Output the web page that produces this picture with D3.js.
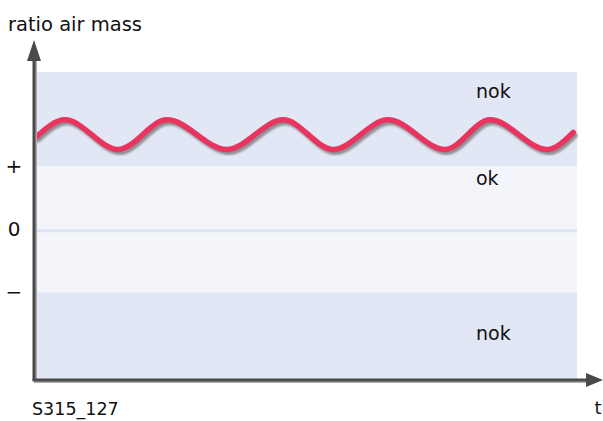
<!DOCTYPE html>
<html>
<head>
<meta charset="utf-8">
<script src="https://cdn.jsdelivr.net/npm/d3@7"></script>
<style>
  body { margin: 0; background: #fff; }
  text { font-family: "DejaVu Sans", sans-serif; fill: #111; }
</style>
</head>
<body>
<div id="chart"></div>
<script>
// dimensions
const w = 603;
const h = 421;

// bandes (valeurs de ratio) : + = 1, 0 = 0, − = -1
const bandNames = ["nok", "ok", "nok"];
const bandLow = [1.02, -0.98, -2.37];
const bandHigh = [2.52, 1.02, -0.98];
const bandColors = ["#e1e7f4", "#f3f5fb", "#e1e7f4"];
const bandLabelY = [2.19, 0.81, -1.65];

// graduations
const tickValues = [1, 0, -1];
const tickLabels = ["+", "0", "\u2212"];

// courbe mesurée (t, ratio)
const waveT = [0.04, 0.57, 1.55, 2.45, 3.55, 4.59, 5.51, 6.52, 7.57, 8.40, 9.45, 9.93];
const waveV = [1.49, 1.76, 1.29, 1.76, 1.29, 1.76, 1.29, 1.76, 1.29, 1.76, 1.29, 1.56];

const svg = d3.select("#chart")
    .append("svg")
    .attr("width", w)
    .attr("height", h);

// scales
const xScale = d3.scaleLinear().domain([0, 10]).range([34, 577]);
const yScale = d3.scaleLinear().domain([-2.37, 2.52]).range([380, 72]);

const defs = svg.append("defs");
defs.append("filter").attr("id", "blur")
    .append("feGaussianBlur").attr("stdDeviation", 1.2);

// bandes
svg.selectAll("rect.band")
    .data(bandNames)
    .enter()
    .append("rect")
    .attr("class", "band")
    .attr("x", xScale(0))
    .attr("width", xScale(10) - xScale(0))
    .attr("y", (d, i) => yScale(bandHigh[i]))
    .attr("height", (d, i) => yScale(bandLow[i]) - yScale(bandHigh[i]))
    .attr("fill", (d, i) => bandColors[i]);

// ligne du zéro
svg.append("line")
    .attr("x1", xScale(0)).attr("x2", xScale(10))
    .attr("y1", yScale(0)).attr("y2", yScale(0))
    .attr("stroke", "#dde4f3")
    .attr("stroke-width", 3);

// étiquettes des bandes
svg.selectAll("text.band")
    .data(bandNames)
    .enter()
    .append("text")
    .attr("class", "band")
    .attr("x", 476)
    .attr("y", (d, i) => yScale(bandLabelY[i]))
    .attr("dominant-baseline", "middle")
    .attr("font-size", "19px")
    .text(d => d);

// courbe
const line = d3.line()
    .x((d, i) => xScale(waveT[i]))
    .y(d => yScale(d))
    .curve(d3.curveMonotoneX);

svg.append("path")
    .attr("d", line(waveV))
    .attr("fill", "none")
    .attr("stroke", "#777")
    .attr("stroke-width", 5)
    .attr("stroke-linecap", "round")
    .attr("transform", "translate(2,3)")
    .attr("filter", "url(#blur)")
    .attr("opacity", 0.8);

svg.append("path")
    .attr("d", line(waveV))
    .attr("fill", "none")
    .attr("stroke", "#e8345f")
    .attr("stroke-width", 5.5)
    .attr("stroke-linecap", "round");

// axes avec ombre
const axisColor = "#4a4a4a";
const x0 = xScale(0), y0 = yScale(-2.37);

svg.append("line")
    .attr("x1", x0 + 2).attr("x2", x0 + 2)
    .attr("y1", 56).attr("y2", y0 + 2)
    .attr("stroke", "#aaa").attr("stroke-width", 2);
svg.append("line")
    .attr("x1", x0).attr("x2", 592)
    .attr("y1", y0 + 2).attr("y2", y0 + 2)
    .attr("stroke", "#aaa").attr("stroke-width", 2);

svg.append("line")
    .attr("x1", x0).attr("x2", x0)
    .attr("y1", 56).attr("y2", y0)
    .attr("stroke", axisColor).attr("stroke-width", 3);
svg.append("line")
    .attr("x1", x0 - 1.5).attr("x2", 592)
    .attr("y1", y0).attr("y2", y0)
    .attr("stroke", axisColor).attr("stroke-width", 3);

// flèches
svg.append("path")
    .attr("d", `M${x0},40 L${x0 + 7},61 L${x0 - 7},61 Z`)
    .attr("fill", axisColor);
svg.append("path")
    .attr("d", `M603,${y0} L586,${y0 - 7} L586,${y0 + 7} Z`)
    .attr("fill", axisColor);

// graduations
svg.selectAll("text.tick")
    .data(tickValues)
    .enter()
    .append("text")
    .attr("class", "tick")
    .attr("x", 14)
    .attr("y", d => yScale(d))
    .attr("text-anchor", "middle")
    .attr("dominant-baseline", "middle")
    .attr("font-size", "20px")
    .text((d, i) => tickLabels[i]);

// titres
svg.append("text")
    .attr("x", 8).attr("y", 31)
    .attr("font-size", "19.5px")
    .text("ratio air mass");

svg.append("text")
    .attr("x", 32).attr("y", 415)
    .attr("font-size", "17.5px")
    .text("S315_127");

svg.append("text")
    .attr("x", 598).attr("y", 414)
    .attr("text-anchor", "middle")
    .attr("font-size", "18px")
    .text("t");
</script>
</body>
</html>
